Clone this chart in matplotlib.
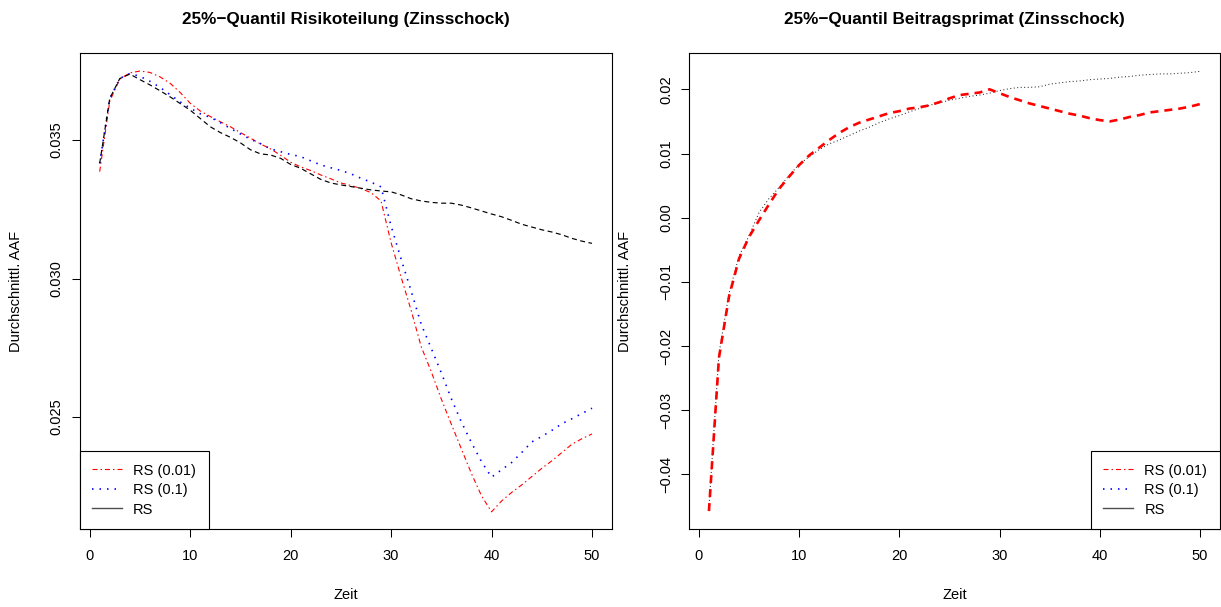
import matplotlib
matplotlib.use("Agg")
import matplotlib.pyplot as plt
from matplotlib.lines import Line2D
import numpy as np

plt.rcParams['font.family'] = ['Liberation Sans', 'DejaVu Sans']
plt.rcParams['lines.scale_dashes'] = False

# ---- data -------------------------------------------------------------
zeit = list(range(1, 51))

# Risikoteilung
rt_rs001 = [0.03386, 0.03640, 0.03720, 0.03742, 0.03749, 0.03744, 0.03728, 0.03705, 0.03672, 0.03633,
            0.03605, 0.03585, 0.03566, 0.03548, 0.03527, 0.03507, 0.03486, 0.03468, 0.03445, 0.03420,
            0.03403, 0.03390, 0.03374, 0.03360, 0.03345, 0.03336, 0.03325, 0.03310, 0.03280, 0.03130,
            0.03005, 0.02885, 0.02754, 0.02664, 0.02565, 0.02474, 0.02385, 0.02296, 0.02216, 0.02158,
            0.02197, 0.02228, 0.02255, 0.02285, 0.02315, 0.02342, 0.02372, 0.02402, 0.02422, 0.02439]
rt_rs01 = [0.03416, 0.03650, 0.03722, 0.03740, 0.03730, 0.03712, 0.03690, 0.03664, 0.03638, 0.03615,
           0.03595, 0.03582, 0.03563, 0.03542, 0.03522, 0.03503, 0.03487, 0.03468, 0.03458, 0.03448,
           0.03440, 0.03425, 0.03410, 0.03400, 0.03390, 0.03378, 0.03362, 0.03348, 0.03331, 0.03190,
           0.03070, 0.02955, 0.02835, 0.02748, 0.02660, 0.02566, 0.02482, 0.02408, 0.02339, 0.02283,
           0.02310, 0.02336, 0.02372, 0.02410, 0.02430, 0.02452, 0.02476, 0.02494, 0.02513, 0.02532]
rt_rs = [0.03416, 0.03650, 0.03722, 0.03738, 0.03718, 0.03699, 0.03678, 0.03656, 0.03632, 0.03608,
         0.03578, 0.03548, 0.03527, 0.03510, 0.03490, 0.03465, 0.03450, 0.03446, 0.03434, 0.03412,
         0.03398, 0.03378, 0.03358, 0.03345, 0.03338, 0.03332, 0.03326, 0.03320, 0.03316, 0.03313,
         0.03302, 0.03288, 0.03280, 0.03275, 0.03272, 0.03272, 0.03265, 0.03255, 0.03244, 0.03233,
         0.03223, 0.03210, 0.03196, 0.03186, 0.03176, 0.03168, 0.03158, 0.03145, 0.03135, 0.03127]

# Beitragsprimat
bp_rs001 = [-0.0457, -0.0218, -0.0123, -0.0064, -0.0030, -0.0004, 0.0021, 0.0045, 0.0064, 0.0082,
            0.0097, 0.0109, 0.0121, 0.0132, 0.0141, 0.0148, 0.0153, 0.0158, 0.0163, 0.0166,
            0.0170, 0.0172, 0.0175, 0.0180, 0.0186, 0.0191, 0.0193, 0.0195, 0.0200, 0.0194,
            0.0188, 0.0183, 0.0178, 0.0174, 0.0170, 0.0166, 0.0162, 0.0159, 0.0155, 0.0152,
            0.0150, 0.0153, 0.0157, 0.0160, 0.0164, 0.0166, 0.0168, 0.0170, 0.0173, 0.0177]
bp_rs = [-0.0452, -0.0212, -0.0118, -0.0060, -0.0028, 0.0008, 0.0030, 0.0047, 0.0066, 0.0083,
         0.0095, 0.0106, 0.0115, 0.0121, 0.0128, 0.0135, 0.0141, 0.0148, 0.0154, 0.0159,
         0.0165, 0.0170, 0.0175, 0.0179, 0.0183, 0.0186, 0.0189, 0.0191, 0.0194, 0.0198,
         0.0201, 0.0203, 0.0203, 0.0204, 0.0208, 0.0210, 0.0212, 0.0213, 0.0215, 0.0216,
         0.0217, 0.0219, 0.0220, 0.0222, 0.0223, 0.0224, 0.0224, 0.0225, 0.0226, 0.0228]

legend_labels = ["RS (0.01)", "RS (0.1)", "RS"]
titles = ["25%\u2212Quantil Risikoteilung (Zinsschock)", "25%\u2212Quantil Beitragsprimat (Zinsschock)"]
xticks = [0, 10, 20, 30, 40, 50]
yticks_left = [0.025, 0.030, 0.035]
yticks_right = [-0.04, -0.03, -0.02, -0.01, 0.00, 0.01, 0.02]

# ---- styling helpers ----------------------------------------------------
PX = 72.0 / 100.0  # points per pixel at dpi 100

def px(*v):
    return tuple(x * PX for x in v)

dotdash = (0, px(5, 3, 1.5, 3))
dotted = (0, px(1.5, 6))
dashed = (0, px(5, 3.5))

fig = plt.figure(figsize=(12.21, 6.07), dpi=100)
W, H = 1221.0, 607.0
bottom = (H - 529) / H
height = 475.7 / H
ax1 = fig.add_axes([80 / W, bottom, 531.7 / W, height])
ax2 = fig.add_axes([689.3 / W, bottom, 530.3 / W, height])

FS = 10.5

def style(ax, title, yticks, fmt, ylim):
    ax.set_xlim(-0.96, 51.96)
    ax.set_ylim(*ylim)
    ax.set_xticks(xticks)
    ax.set_xticklabels([str(v) for v in xticks])
    ax.set_yticks(yticks)
    ax.set_yticklabels([fmt(v) for v in yticks])
    for lab in ax.get_yticklabels():
        lab.set_rotation(90)
        lab.set_va('center')
    ax.tick_params(axis='both', direction='out', length=6, width=0.75,
                   labelsize=FS, colors='black')
    ax.tick_params(axis='x', pad=8.5)
    ax.tick_params(axis='y', pad=5.8)
    for s in ax.spines.values():
        s.set_linewidth(0.8)
        s.set_color('black')
    ax.set_title(title, fontsize=12.3, fontweight='bold', pad=21)
    ax.set_xlabel("Zeit", fontsize=FS, va='center')
    ax.xaxis.set_label_coords(0.5, -0.139)
    ax.set_ylabel("Durchschnittl. AAF", fontsize=FS, va='center')

def fmt_left(v):
    return f"{v:.3f}"

def fmt_right(v):
    s = f"{v:.2f}"
    return s.replace('-', '\u2212')

# ---- left panel ----------------------------------------------------------
ax1.plot(zeit, rt_rs001, color='red', lw=0.8, linestyle=dotdash)
ax1.plot(zeit, rt_rs01, color='blue', lw=1.2, linestyle=dotted)
ax1.plot(zeit, rt_rs, color='black', lw=0.85, linestyle=dashed)
style(ax1, titles[0], yticks_left, fmt_left, (0.02096, 0.03813))
ax1.yaxis.set_label_coords((16 - 80) / 531.7, 0.5)

# ---- right panel ---------------------------------------------------------
ax2.plot(zeit, bp_rs, color='0.15', lw=0.75, linestyle=(0, px(1, 2.5)))
ax2.plot(zeit, bp_rs001, color='red', lw=1.9, linestyle=(0, px(8, 6)))
style(ax2, titles[1], yticks_right, fmt_right, (-0.04849, 0.02561))
ax2.yaxis.set_label_coords((625 - 689.3) / 530.3, 0.5)

# ---- legends ---------------------------------------------------------------
handles = [Line2D([], [], color='red', lw=0.8, linestyle=dotdash),
           Line2D([], [], color='blue', lw=1.2, linestyle=dotted),
           Line2D([], [], color='0.3', lw=1.0, linestyle='-')]
for ax, loc in ((ax1, 'lower left'), (ax2, 'lower right')):
    leg = ax.legend(handles, legend_labels, loc=loc, fontsize=FS, frameon=True,
                    fancybox=False, edgecolor='black', framealpha=1,
                    borderaxespad=0, borderpad=0.85, handlelength=2.0,
                    handletextpad=0.8, labelspacing=0.38)
    leg.get_frame().set_linewidth(0.8)

fig.savefig("out.png", dpi=100)
